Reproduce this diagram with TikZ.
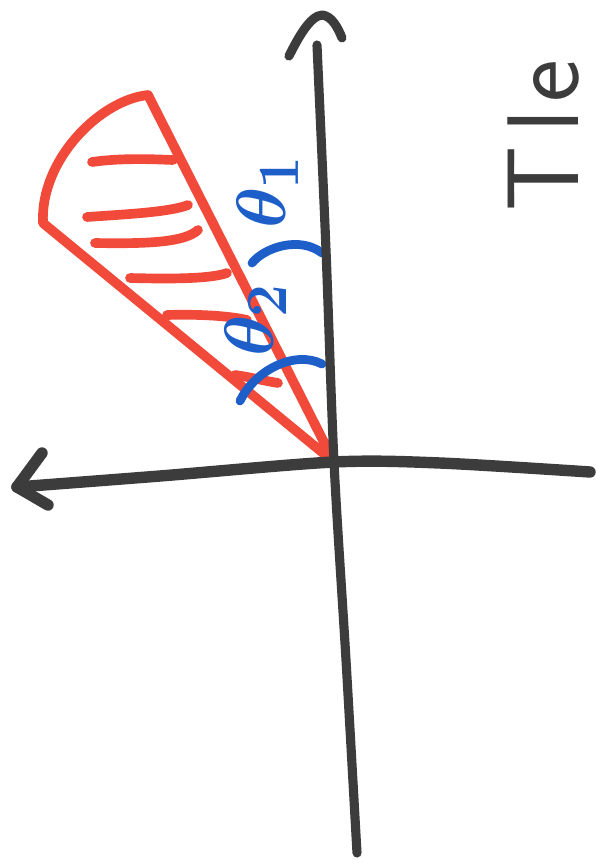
\documentclass[tikz,border=0pt]{standalone}
\usepackage{graphicx}
\usepackage{xcolor}
\definecolor{axisgray}{HTML}{3C3C3C}
\definecolor{markred}{HTML}{F24A3A}
\definecolor{markblue}{HTML}{1E5EC8}
\newcommand{\biglab}[1]{\scalebox{1.6}{\Huge\boldmath$#1$}}
\begin{document}
\begin{tikzpicture}[x=0.02cm,y=-0.02cm,
  axisline/.style={draw=axisgray,line width=6.5pt,line cap=round,line join=round},
  vaxis/.style={draw=axisgray,line width=5.2pt,line cap=round,line join=round},
  redline/.style={draw=markred,line width=5.5pt,line cap=round,line join=round},
  hatchline/.style={draw=markred,line width=5.5pt,line cap=round},
  bluearc/.style={draw=markblue,line width=5pt,line cap=round},
  bluelabel/.style={text=markblue,rotate=90,inner sep=0pt},
  axislabel/.style={text=axisgray,font=\sffamily\fontsize{58}{62}\selectfont,rotate=90,inner sep=0pt}]
\useasboundingbox (0,0) rectangle (596,866);
\fill[white] (0,0) rectangle (596,866);
% key points
\coordinate (O) at (334,462);
\coordinate (B) at (148,95);
\coordinate (C) at (43,223);
% red wedge
\draw[redline] (O) -- (B) .. controls (100,100) and (40,160) .. (C) -- cycle;
% hatching
\coordinate (h1a) at (92,162);  \coordinate (h1b) at (173,160);
\coordinate (h2a) at (87,217);  \coordinate (h2b) at (188,205);
\coordinate (h3a) at (95,243);  \coordinate (h3b) at (198,230);
\coordinate (h4a) at (130,278); \coordinate (h4b) at (227,273);
\coordinate (h5a) at (167,315); \coordinate (h5b) at (247,320);
\coordinate (h6a) at (235,375); \coordinate (h6b) at (278,383);
\draw[hatchline] (h1a) .. controls (120,158) and (150,159) .. (h1b);
\draw[hatchline] (h2a) .. controls (130,214) and (170,212) .. (h2b);
\draw[hatchline] (h3a) .. controls (150,244) and (185,242) .. (h3b);
\draw[hatchline] (h4a) .. controls (170,279) and (210,279) .. (h4b);
\draw[hatchline] (h5a) .. controls (200,314) and (230,316) .. (h5b);
\draw[hatchline] (h6a) .. controls (250,377) and (265,381) .. (h6b);
% blue angle arcs
\coordinate (a1s) at (252,263); \coordinate (a1e) at (322,253);
\coordinate (a2s) at (240,401); \coordinate (a2e) at (322,364);
\draw[bluearc] (a1s) .. controls (265,247) and (300,236) .. (a1e);
\draw[bluearc] (a2s) .. controls (255,370) and (295,350) .. (a2e);
% blue labels
\node[bluelabel] (t1) at (268,192) {\biglab{\theta_1}};
\node[bluelabel] (t2) at (256,320) {\biglab{\theta_2}};
% axes
\coordinate (hr) at (590,472);
\coordinate (hm) at (440,463);
\coordinate (hl1) at (160,476);
\coordinate (hl) at (17,487);
\draw[axisline] plot[smooth,tension=0.5] coordinates {(hr) (hm) (O) (hl1) (hl)};
\coordinate (lat) at (42,453);
\coordinate (lab) at (48,505);
\draw[axisline] (lat) -- (hl) -- (lab);
\coordinate (vt) at (317,45);
\coordinate (v1) at (326,250);
\coordinate (v2) at (346,660);
\coordinate (vb) at (357,853);
\draw[vaxis] plot[smooth,tension=0.5] coordinates {(vt) (v1) (O) (v2) (vb)};
\coordinate (tl) at (289,56);
\coordinate (tp) at (322,15);
\coordinate (tr) at (342,38);
\draw[vaxis] (tl) .. controls (298,38) and (310,16) .. (tp) .. controls (332,16) and (338,28) .. (tr);
% axis label
\node[axislabel,anchor=base west] (lbl) at (578,212) {T\kern8pt l\kern4pt e};
\end{tikzpicture}
\end{document}
